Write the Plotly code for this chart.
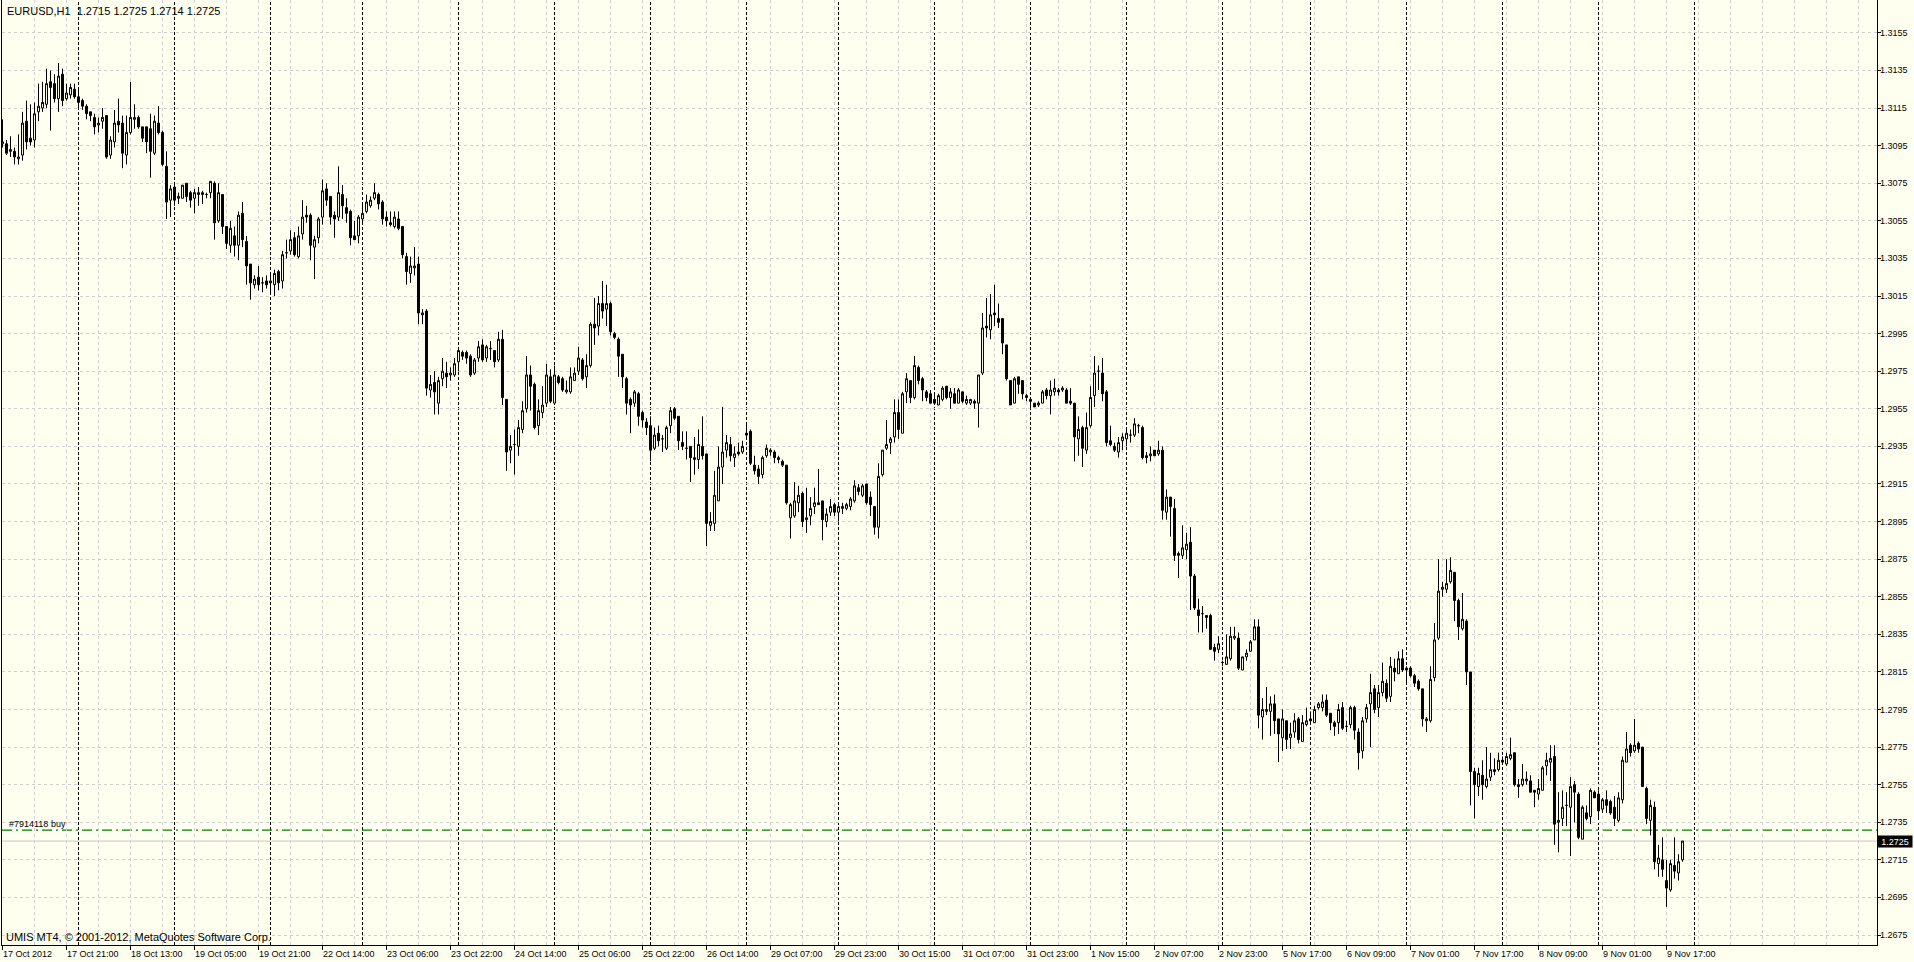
import plotly.graph_objects as go

# ---------------- data ----------------
SYMBOL = "EURUSD,H1"

# trading sessions (day, first hour, last hour) of the H1 bars shown
SESSIONS = [
    ("2012-10-17", 5, 23), ("2012-10-18", 0, 23), ("2012-10-19", 0, 23),
    ("2012-10-22", 1, 23), ("2012-10-23", 0, 23), ("2012-10-24", 0, 23),
    ("2012-10-25", 0, 23), ("2012-10-26", 0, 23), ("2012-10-29", 1, 23),
    ("2012-10-30", 0, 23), ("2012-10-31", 0, 23), ("2012-11-01", 0, 23),
    ("2012-11-02", 0, 23), ("2012-11-05", 2, 23), ("2012-11-06", 0, 23),
    ("2012-11-07", 0, 23), ("2012-11-08", 0, 23), ("2012-11-09", 0, 21),
]

OPEN = [
    1.3096, 1.3096, 1.3092, 1.3092, 1.3088, 1.3090, 1.3108, 1.3099, 1.3098, 1.3113,
    1.3115, 1.3117, 1.3129, 1.3128, 1.3120, 1.3133, 1.3120, 1.3122, 1.3125, 1.3121,
    1.3119, 1.3116, 1.3113, 1.3110, 1.3106, 1.3108, 1.3111, 1.3090, 1.3097, 1.3108,
    1.3107, 1.3090, 1.3102, 1.3109, 1.3110, 1.3105, 1.3105, 1.3104, 1.3091, 1.3107,
    1.3102, 1.3084, 1.3066, 1.3073, 1.3067, 1.3067, 1.3075, 1.3070, 1.3067, 1.3069,
    1.3069, 1.3069, 1.3070, 1.3075, 1.3055, 1.3069, 1.3052, 1.3042, 1.3047, 1.3042,
    1.3059, 1.3044, 1.3032, 1.3021, 1.3025, 1.3022, 1.3023, 1.3022, 1.3021, 1.3028,
    1.3023, 1.3038, 1.3039, 1.3046, 1.3036, 1.3048, 1.3058, 1.3058, 1.3041, 1.3046,
    1.3057, 1.3072, 1.3068, 1.3058, 1.3057, 1.3069, 1.3062, 1.3060, 1.3047, 1.3047,
    1.3056, 1.3060, 1.3063, 1.3067, 1.3069, 1.3065, 1.3057, 1.3054, 1.3052, 1.3056,
    1.3052, 1.3036, 1.3027, 1.3030, 1.3032, 1.3005, 1.3007, 1.2965, 1.2969, 1.2958,
    1.2971, 1.2974, 1.2973, 1.2973, 1.2980, 1.2985, 1.2985, 1.2983, 1.2974, 1.2982,
    1.2989, 1.2982, 1.2987, 1.2986, 1.2981, 1.2992, 1.2960, 1.2933, 1.2936, 1.2935,
    1.2944, 1.2955, 1.2973, 1.2968, 1.2946, 1.2953, 1.2958, 1.2972, 1.2958, 1.2972,
    1.2971, 1.2964, 1.2964, 1.2970, 1.2975, 1.2981, 1.2972, 1.2978, 1.3000, 1.2999,
    1.3011, 1.3008, 1.3011, 1.2995, 1.2992, 1.2984, 1.2971, 1.2960, 1.2958, 1.2963,
    1.2953, 1.2948, 1.2946, 1.2934, 1.2942, 1.2939, 1.2934, 1.2946, 1.2955, 1.2951,
    1.2937, 1.2934, 1.2935, 1.2928, 1.2928, 1.2935, 1.2931, 1.2893, 1.2894, 1.2906,
    1.2924, 1.2933, 1.2936, 1.2929, 1.2932, 1.2932, 1.2942, 1.2943, 1.2925, 1.2923,
    1.2920, 1.2930, 1.2932, 1.2932, 1.2929, 1.2927, 1.2925, 1.2897, 1.2898, 1.2905,
    1.2910, 1.2896, 1.2898, 1.2903, 1.2905, 1.2906, 1.2895, 1.2900, 1.2904, 1.2900,
    1.2902, 1.2902, 1.2903, 1.2906, 1.2913, 1.2909, 1.2915, 1.2908, 1.2903, 1.2892,
    1.2920, 1.2934, 1.2937, 1.2940, 1.2953, 1.2942, 1.2964, 1.2970, 1.2961, 1.2977,
    1.2971, 1.2964, 1.2963, 1.2960, 1.2957, 1.2960, 1.2967, 1.2961, 1.2963, 1.2958,
    1.2964, 1.2958, 1.2958, 1.2959, 1.2958, 1.2974, 1.2999, 1.2997, 1.3006, 1.3003,
    1.3003, 1.2989, 1.2970, 1.2958, 1.2972, 1.2970, 1.2962, 1.2960, 1.2958, 1.2957,
    1.2958, 1.2965, 1.2962, 1.2964, 1.2965, 1.2965, 1.2965, 1.2959, 1.2958, 1.2939,
    1.2945, 1.2933, 1.2946, 1.2962, 1.2975, 1.2974, 1.2964, 1.2938, 1.2935, 1.2932,
    1.2938, 1.2939, 1.2941, 1.2941, 1.2946, 1.2945, 1.2930, 1.2930, 1.2933, 1.2931,
    1.2933, 1.2900, 1.2908, 1.2902, 1.2877, 1.2877, 1.2880, 1.2884, 1.2866, 1.2848,
    1.2846, 1.2845, 1.2845, 1.2828, 1.2827, 1.2820, 1.2819, 1.2822, 1.2833, 1.2833,
    1.2816, 1.2823, 1.2826, 1.2832, 1.2839, 1.2791, 1.2794, 1.2794, 1.2798, 1.2790,
    1.2780, 1.2789, 1.2780, 1.2783, 1.2790, 1.2778, 1.2787, 1.2790, 1.2788, 1.2796,
    1.2796, 1.2800, 1.2793, 1.2788, 1.2788, 1.2796, 1.2786, 1.2787, 1.2796, 1.2783,
    1.2773, 1.2790, 1.2798, 1.2806, 1.2796, 1.2804, 1.2809, 1.2802, 1.2817, 1.2814,
    1.2822, 1.2817, 1.2817, 1.2813, 1.2810, 1.2806, 1.2789, 1.2789, 1.2812, 1.2833,
    1.2859, 1.2859, 1.2863, 1.2868, 1.2853, 1.2838, 1.2842, 1.2815, 1.2762, 1.2754,
    1.2760, 1.2754, 1.2759, 1.2762, 1.2763, 1.2768, 1.2766, 1.2769, 1.2772, 1.2755,
    1.2755, 1.2757, 1.2757, 1.2752, 1.2750, 1.2752, 1.2765, 1.2767, 1.2770, 1.2735,
    1.2737, 1.2744, 1.2743, 1.2755, 1.2750, 1.2726, 1.2740, 1.2738, 1.2751, 1.2750,
    1.2742, 1.2747, 1.2746, 1.2743, 1.2736, 1.2747, 1.2767, 1.2776, 1.2773, 1.2777,
    1.2775, 1.2753, 1.2736, 1.2743, 1.2713, 1.2715, 1.2704, 1.2699, 1.2712, 1.2708, 1.2715,
]

HIGH = [
    1.3109, 1.3098, 1.3100, 1.3094, 1.3101, 1.3113, 1.3119, 1.3117, 1.3118, 1.3128,
    1.3129, 1.3136, 1.3135, 1.3133, 1.3139, 1.3136, 1.3128, 1.3128, 1.3128, 1.3125,
    1.3120, 1.3117, 1.3113, 1.3112, 1.3110, 1.3115, 1.3111, 1.3100, 1.3114, 1.3120,
    1.3111, 1.3111, 1.3129, 1.3117, 1.3111, 1.3105, 1.3105, 1.3112, 1.3111, 1.3116,
    1.3103, 1.3092, 1.3074, 1.3074, 1.3070, 1.3074, 1.3075, 1.3071, 1.3072, 1.3073,
    1.3071, 1.3070, 1.3076, 1.3076, 1.3075, 1.3069, 1.3052, 1.3055, 1.3052, 1.3060,
    1.3065, 1.3047, 1.3032, 1.3026, 1.3031, 1.3025, 1.3026, 1.3027, 1.3029, 1.3029,
    1.3039, 1.3045, 1.3050, 1.3049, 1.3052, 1.3066, 1.3063, 1.3059, 1.3047, 1.3057,
    1.3077, 1.3075, 1.3068, 1.3060, 1.3084, 1.3074, 1.3067, 1.3061, 1.3055, 1.3058,
    1.3064, 1.3069, 1.3068, 1.3075, 1.3070, 1.3066, 1.3060, 1.3060, 1.3060, 1.3060,
    1.3052, 1.3038, 1.3036, 1.3041, 1.3036, 1.3008, 1.3008, 1.2973, 1.2975, 1.2972,
    1.2982, 1.2980, 1.2977, 1.2982, 1.2987, 1.2986, 1.2986, 1.2984, 1.2982, 1.2991,
    1.2992, 1.2989, 1.2991, 1.2986, 1.2996, 1.2997, 1.2960, 1.2941, 1.2944, 1.2949,
    1.2959, 1.2983, 1.2978, 1.2969, 1.2960, 1.2967, 1.2979, 1.2976, 1.2978, 1.2973,
    1.2972, 1.2970, 1.2977, 1.2977, 1.2988, 1.2982, 1.2984, 1.3001, 1.3014, 1.3015,
    1.3023, 1.3021, 1.3012, 1.2996, 1.2993, 1.2984, 1.2972, 1.2961, 1.2965, 1.2964,
    1.2954, 1.2950, 1.2951, 1.2945, 1.2946, 1.2941, 1.2946, 1.2956, 1.2956, 1.2951,
    1.2943, 1.2943, 1.2935, 1.2940, 1.2944, 1.2951, 1.2931, 1.2900, 1.2922, 1.2935,
    1.2956, 1.2941, 1.2940, 1.2935, 1.2937, 1.2938, 1.2948, 1.2944, 1.2930, 1.2925,
    1.2930, 1.2936, 1.2934, 1.2933, 1.2930, 1.2928, 1.2925, 1.2905, 1.2916, 1.2914,
    1.2911, 1.2913, 1.2908, 1.2913, 1.2923, 1.2906, 1.2902, 1.2907, 1.2905, 1.2905,
    1.2905, 1.2905, 1.2908, 1.2917, 1.2915, 1.2915, 1.2915, 1.2911, 1.2903, 1.2926,
    1.2933, 1.2949, 1.2940, 1.2960, 1.2960, 1.2964, 1.2974, 1.2970, 1.2983, 1.2978,
    1.2972, 1.2965, 1.2965, 1.2963, 1.2963, 1.2967, 1.2967, 1.2966, 1.2966, 1.2966,
    1.2964, 1.2962, 1.2960, 1.2960, 1.2973, 1.3006, 1.3014, 1.3016, 1.3021, 1.3011,
    1.3003, 1.2989, 1.2970, 1.2972, 1.2972, 1.2970, 1.2963, 1.2960, 1.2958, 1.2959,
    1.2965, 1.2966, 1.2970, 1.2971, 1.2966, 1.2967, 1.2966, 1.2966, 1.2958, 1.2951,
    1.2946, 1.2953, 1.2967, 1.2983, 1.2978, 1.2982, 1.2965, 1.2946, 1.2937, 1.2940,
    1.2942, 1.2945, 1.2944, 1.2950, 1.2947, 1.2946, 1.2932, 1.2935, 1.2933, 1.2938,
    1.2935, 1.2912, 1.2908, 1.2907, 1.2879, 1.2893, 1.2889, 1.2892, 1.2867, 1.2854,
    1.2850, 1.2845, 1.2846, 1.2830, 1.2834, 1.2821, 1.2835, 1.2839, 1.2839, 1.2836,
    1.2823, 1.2827, 1.2832, 1.2843, 1.2843, 1.2801, 1.2807, 1.2802, 1.2803, 1.2790,
    1.2795, 1.2789, 1.2788, 1.2793, 1.2791, 1.2792, 1.2796, 1.2794, 1.2797, 1.2799,
    1.2803, 1.2803, 1.2793, 1.2789, 1.2798, 1.2799, 1.2789, 1.2797, 1.2797, 1.2785,
    1.2791, 1.2798, 1.2814, 1.2808, 1.2808, 1.2820, 1.2811, 1.2823, 1.2822, 1.2826,
    1.2827, 1.2818, 1.2818, 1.2814, 1.2811, 1.2806, 1.2791, 1.2818, 1.2841, 1.2875,
    1.2863, 1.2875, 1.2876, 1.2868, 1.2854, 1.2857, 1.2843, 1.2815, 1.2764, 1.2764,
    1.2768, 1.2775, 1.2772, 1.2769, 1.2772, 1.2770, 1.2772, 1.2780, 1.2772, 1.2758,
    1.2766, 1.2762, 1.2760, 1.2752, 1.2758, 1.2765, 1.2772, 1.2776, 1.2776, 1.2751,
    1.2752, 1.2751, 1.2759, 1.2757, 1.2751, 1.2744, 1.2744, 1.2753, 1.2752, 1.2752,
    1.2748, 1.2752, 1.2747, 1.2749, 1.2751, 1.2770, 1.2783, 1.2777, 1.2790, 1.2778,
    1.2775, 1.2754, 1.2747, 1.2746, 1.2723, 1.2727, 1.2715, 1.2715, 1.2727, 1.2718, 1.2725,
]

LOW = [
    1.3094, 1.3090, 1.3089, 1.3085, 1.3085, 1.3087, 1.3093, 1.3095, 1.3094, 1.3108,
    1.3113, 1.3115, 1.3103, 1.3118, 1.3113, 1.3116, 1.3119, 1.3120, 1.3120, 1.3115,
    1.3114, 1.3109, 1.3108, 1.3101, 1.3102, 1.3104, 1.3088, 1.3088, 1.3094, 1.3102,
    1.3083, 1.3085, 1.3101, 1.3104, 1.3104, 1.3097, 1.3091, 1.3078, 1.3090, 1.3101,
    1.3084, 1.3056, 1.3057, 1.3063, 1.3064, 1.3067, 1.3065, 1.3062, 1.3059, 1.3063,
    1.3064, 1.3067, 1.3067, 1.3045, 1.3054, 1.3048, 1.3040, 1.3038, 1.3036, 1.3034,
    1.3041, 1.3021, 1.3013, 1.3019, 1.3018, 1.3017, 1.3019, 1.3016, 1.3015, 1.3018,
    1.3019, 1.3035, 1.3037, 1.3036, 1.3035, 1.3045, 1.3054, 1.3034, 1.3024, 1.3043,
    1.3053, 1.3063, 1.3053, 1.3046, 1.3055, 1.3056, 1.3054, 1.3042, 1.3045, 1.3043,
    1.3054, 1.3059, 1.3062, 1.3066, 1.3061, 1.3053, 1.3052, 1.3052, 1.3051, 1.3050,
    1.3035, 1.3021, 1.3022, 1.3026, 1.3000, 1.3000, 1.2962, 1.2961, 1.2952, 1.2952,
    1.2967, 1.2966, 1.2970, 1.2972, 1.2975, 1.2981, 1.2979, 1.2972, 1.2973, 1.2980,
    1.2980, 1.2980, 1.2981, 1.2977, 1.2980, 1.2957, 1.2922, 1.2926, 1.2920, 1.2930,
    1.2942, 1.2953, 1.2954, 1.2944, 1.2941, 1.2950, 1.2956, 1.2958, 1.2958, 1.2968,
    1.2964, 1.2963, 1.2963, 1.2970, 1.2973, 1.2970, 1.2966, 1.2977, 1.2989, 1.2994,
    1.3003, 1.2999, 1.2994, 1.2992, 1.2972, 1.2966, 1.2952, 1.2942, 1.2956, 1.2946,
    1.2945, 1.2941, 1.2927, 1.2933, 1.2935, 1.2932, 1.2933, 1.2942, 1.2949, 1.2933,
    1.2933, 1.2928, 1.2916, 1.2920, 1.2923, 1.2928, 1.2882, 1.2890, 1.2890, 1.2906,
    1.2915, 1.2929, 1.2927, 1.2924, 1.2930, 1.2931, 1.2940, 1.2925, 1.2920, 1.2915,
    1.2918, 1.2929, 1.2930, 1.2926, 1.2926, 1.2924, 1.2904, 1.2886, 1.2897, 1.2900,
    1.2892, 1.2889, 1.2893, 1.2899, 1.2904, 1.2885, 1.2892, 1.2898, 1.2898, 1.2895,
    1.2899, 1.2901, 1.2901, 1.2905, 1.2909, 1.2908, 1.2904, 1.2898, 1.2888, 1.2886,
    1.2919, 1.2933, 1.2931, 1.2937, 1.2939, 1.2942, 1.2958, 1.2958, 1.2960, 1.2968,
    1.2959, 1.2959, 1.2958, 1.2957, 1.2957, 1.2959, 1.2960, 1.2955, 1.2958, 1.2958,
    1.2958, 1.2957, 1.2957, 1.2955, 1.2945, 1.2973, 1.2993, 1.2992, 1.2999, 1.2998,
    1.2984, 1.2970, 1.2957, 1.2958, 1.2963, 1.2960, 1.2959, 1.2955, 1.2956, 1.2956,
    1.2958, 1.2960, 1.2952, 1.2962, 1.2962, 1.2964, 1.2958, 1.2957, 1.2927, 1.2930,
    1.2924, 1.2931, 1.2945, 1.2956, 1.2965, 1.2959, 1.2935, 1.2935, 1.2932, 1.2929,
    1.2933, 1.2935, 1.2937, 1.2940, 1.2942, 1.2928, 1.2926, 1.2927, 1.2930, 1.2930,
    1.2896, 1.2896, 1.2887, 1.2874, 1.2865, 1.2875, 1.2875, 1.2848, 1.2848, 1.2836,
    1.2836, 1.2838, 1.2827, 1.2821, 1.2825, 1.2818, 1.2819, 1.2821, 1.2832, 1.2816,
    1.2816, 1.2821, 1.2826, 1.2832, 1.2785, 1.2779, 1.2792, 1.2781, 1.2782, 1.2767,
    1.2773, 1.2774, 1.2774, 1.2780, 1.2777, 1.2778, 1.2786, 1.2787, 1.2788, 1.2795,
    1.2794, 1.2791, 1.2784, 1.2781, 1.2782, 1.2784, 1.2783, 1.2785, 1.2779, 1.2763,
    1.2769, 1.2788, 1.2775, 1.2793, 1.2791, 1.2802, 1.2799, 1.2799, 1.2810, 1.2814,
    1.2815, 1.2809, 1.2812, 1.2807, 1.2805, 1.2786, 1.2783, 1.2788, 1.2810, 1.2832,
    1.2855, 1.2857, 1.2862, 1.2842, 1.2832, 1.2837, 1.2808, 1.2744, 1.2737, 1.2749,
    1.2747, 1.2753, 1.2757, 1.2760, 1.2762, 1.2766, 1.2765, 1.2768, 1.2754, 1.2748,
    1.2754, 1.2755, 1.2751, 1.2743, 1.2747, 1.2752, 1.2760, 1.2757, 1.2723, 1.2719,
    1.2733, 1.2733, 1.2717, 1.2735, 1.2726, 1.2726, 1.2736, 1.2734, 1.2748, 1.2737,
    1.2740, 1.2740, 1.2739, 1.2733, 1.2735, 1.2745, 1.2767, 1.2770, 1.2772, 1.2772,
    1.2754, 1.2734, 1.2728, 1.2710, 1.2706, 1.2706, 1.2690, 1.2698, 1.2705, 1.2704, 1.2714,
]

CLOSE = [
    1.3097, 1.3091, 1.3093, 1.3089, 1.3089, 1.3107, 1.3097, 1.3097, 1.3112, 1.3116,
    1.3118, 1.3128, 1.3126, 1.3120, 1.3132, 1.3119, 1.3123, 1.3126, 1.3121, 1.3118,
    1.3116, 1.3112, 1.3111, 1.3105, 1.3107, 1.3110, 1.3089, 1.3098, 1.3107, 1.3106,
    1.3091, 1.3102, 1.3110, 1.3110, 1.3105, 1.3099, 1.3097, 1.3092, 1.3108, 1.3102,
    1.3085, 1.3065, 1.3072, 1.3066, 1.3068, 1.3074, 1.3068, 1.3066, 1.3070, 1.3070,
    1.3070, 1.3069, 1.3076, 1.3054, 1.3070, 1.3052, 1.3043, 1.3051, 1.3042, 1.3058,
    1.3045, 1.3031, 1.3022, 1.3024, 1.3021, 1.3022, 1.3021, 1.3023, 1.3027, 1.3022,
    1.3037, 1.3038, 1.3045, 1.3037, 1.3047, 1.3057, 1.3057, 1.3042, 1.3045, 1.3056,
    1.3071, 1.3066, 1.3057, 1.3056, 1.3070, 1.3063, 1.3059, 1.3046, 1.3045, 1.3057,
    1.3059, 1.3065, 1.3066, 1.3070, 1.3064, 1.3056, 1.3055, 1.3053, 1.3057, 1.3051,
    1.3037, 1.3028, 1.3031, 1.3031, 1.3006, 1.3006, 1.2966, 1.2968, 1.2964, 1.2970,
    1.2975, 1.2972, 1.2974, 1.2979, 1.2986, 1.2983, 1.2982, 1.2973, 1.2981, 1.2988,
    1.2981, 1.2988, 1.2987, 1.2980, 1.2992, 1.2961, 1.2932, 1.2935, 1.2936, 1.2945,
    1.2954, 1.2973, 1.2967, 1.2945, 1.2954, 1.2957, 1.2973, 1.2959, 1.2973, 1.2969,
    1.2965, 1.2965, 1.2972, 1.2974, 1.2982, 1.2971, 1.2978, 1.3000, 1.2998, 1.3011,
    1.3007, 1.3011, 1.2996, 1.2993, 1.2983, 1.2972, 1.2958, 1.2957, 1.2964, 1.2951,
    1.2949, 1.2945, 1.2933, 1.2941, 1.2938, 1.2939, 1.2945, 1.2954, 1.2950, 1.2938,
    1.2935, 1.2934, 1.2929, 1.2929, 1.2936, 1.2930, 1.2894, 1.2895, 1.2909, 1.2924,
    1.2932, 1.2937, 1.2930, 1.2931, 1.2931, 1.2935, 1.2941, 1.2926, 1.2922, 1.2919,
    1.2929, 1.2934, 1.2933, 1.2929, 1.2928, 1.2925, 1.2905, 1.2904, 1.2906, 1.2909,
    1.2895, 1.2897, 1.2902, 1.2905, 1.2904, 1.2896, 1.2899, 1.2903, 1.2900, 1.2903,
    1.2903, 1.2904, 1.2907, 1.2914, 1.2911, 1.2914, 1.2905, 1.2904, 1.2892, 1.2919,
    1.2933, 1.2936, 1.2939, 1.2953, 1.2944, 1.2963, 1.2971, 1.2961, 1.2978, 1.2970,
    1.2965, 1.2961, 1.2958, 1.2958, 1.2962, 1.2966, 1.2961, 1.2964, 1.2958, 1.2965,
    1.2959, 1.2960, 1.2960, 1.2958, 1.2973, 1.2998, 1.2998, 1.3005, 1.3005, 1.3001,
    1.2990, 1.2971, 1.2957, 1.2971, 1.2968, 1.2963, 1.2961, 1.2959, 1.2956, 1.2958,
    1.2964, 1.2962, 1.2965, 1.2966, 1.2964, 1.2966, 1.2958, 1.2958, 1.2940, 1.2944,
    1.2934, 1.2945, 1.2961, 1.2974, 1.2975, 1.2963, 1.2937, 1.2936, 1.2933, 1.2937,
    1.2940, 1.2942, 1.2941, 1.2947, 1.2946, 1.2929, 1.2929, 1.2931, 1.2930, 1.2933,
    1.2901, 1.2908, 1.2903, 1.2877, 1.2878, 1.2881, 1.2883, 1.2866, 1.2849, 1.2845,
    1.2846, 1.2844, 1.2827, 1.2826, 1.2830, 1.2820, 1.2823, 1.2834, 1.2834, 1.2817,
    1.2823, 1.2825, 1.2831, 1.2839, 1.2792, 1.2795, 1.2795, 1.2798, 1.2789, 1.2782,
    1.2790, 1.2779, 1.2782, 1.2789, 1.2779, 1.2788, 1.2789, 1.2789, 1.2795, 1.2798,
    1.2799, 1.2792, 1.2788, 1.2786, 1.2795, 1.2785, 1.2786, 1.2796, 1.2784, 1.2772,
    1.2789, 1.2796, 1.2804, 1.2795, 1.2804, 1.2810, 1.2801, 1.2818, 1.2815, 1.2822,
    1.2816, 1.2816, 1.2813, 1.2809, 1.2806, 1.2790, 1.2790, 1.2811, 1.2832, 1.2858,
    1.2860, 1.2862, 1.2869, 1.2853, 1.2839, 1.2843, 1.2815, 1.2762, 1.2755, 1.2761,
    1.2755, 1.2758, 1.2763, 1.2763, 1.2768, 1.2767, 1.2770, 1.2771, 1.2755, 1.2754,
    1.2758, 1.2758, 1.2751, 1.2751, 1.2753, 1.2764, 1.2768, 1.2769, 1.2734, 1.2736,
    1.2743, 1.2744, 1.2754, 1.2751, 1.2727, 1.2743, 1.2737, 1.2752, 1.2748, 1.2741,
    1.2747, 1.2744, 1.2740, 1.2737, 1.2748, 1.2768, 1.2774, 1.2772, 1.2776, 1.2774,
    1.2754, 1.2737, 1.2744, 1.2714, 1.2716, 1.2710, 1.2700, 1.2713, 1.2709, 1.2714, 1.2725,
]

TIME_LABELS = [
    "17 Oct 2012", "17 Oct 21:00", "18 Oct 13:00", "19 Oct 05:00", "19 Oct 21:00",
    "22 Oct 14:00", "23 Oct 06:00", "23 Oct 22:00", "24 Oct 14:00", "25 Oct 06:00",
    "25 Oct 22:00", "26 Oct 14:00", "29 Oct 07:00", "29 Oct 23:00", "30 Oct 15:00",
    "31 Oct 07:00", "31 Oct 23:00", "1 Nov 15:00", "2 Nov 07:00", "2 Nov 23:00",
    "5 Nov 17:00", "6 Nov 09:00", "7 Nov 01:00", "7 Nov 17:00", "8 Nov 09:00",
    "9 Nov 01:00", "9 Nov 17:00",
]
LABEL_EVERY = 16      # bars between time labels
GRID_EVERY = 8        # bars between vertical grid lines

PRICE_TICKS = [
    "1.2675", "1.2695", "1.2715", "1.2735", "1.2755", "1.2775", "1.2795", "1.2815",
    "1.2835", "1.2855", "1.2875", "1.2895", "1.2915", "1.2935", "1.2955", "1.2975",
    "1.2995", "1.3015", "1.3035", "1.3055", "1.3075", "1.3095", "1.3115", "1.3135",
    "1.3155",
]

BUY_PRICE = 1.27308
BUY_LABEL = "#7914118 buy"
COPYRIGHT = "UMIS MT4, \u00a9 2001-2012, MetaQuotes Software Corp."

# ---------------- build ----------------
n = len(CLOSE)
assert len(OPEN) == n and len(HIGH) == n and len(LOW) == n, (len(OPEN), len(HIGH), len(LOW), n)

HIGH = [max(h, o, c) for h, o, c in zip(HIGH, OPEN, CLOSE)]
LOW = [min(l, o, c) for l, o, c in zip(LOW, OPEN, CLOSE)]

# bar index of the first bar of every day
day_starts = []
count = 0
for d, h0, h1 in SESSIONS:
    day_starts.append(count)
    count += h1 - h0 + 1
assert count == n, count
last_hour = SESSIONS[-1][2]
future_sep = (n - 1) + (24 - last_hour)   # next midnight after the last bar
separators = day_starts[1:] + [future_sep]

x = list(range(n))
BG = "#FFFFF0"
GRID = "#CFCFCF"
FONT = "Liberation Sans, Arial, sans-serif"

fig = go.Figure()
fig.add_trace(go.Candlestick(
    x=x, open=OPEN, high=HIGH, low=LOW, close=CLOSE,
    increasing=dict(line=dict(color="black", width=1), fillcolor=BG),
    decreasing=dict(line=dict(color="black", width=1), fillcolor="black"),
    whiskerwidth=0, hoverinfo="skip", showlegend=False,
))

shapes = []
for s in separators:
    shapes.append(dict(type="line", xref="x", yref="paper", x0=s, x1=s, y0=0, y1=1,
                       line=dict(color="black", width=1, dash="3px,2px"), layer="below"))
# bid line
bid = CLOSE[-1]
shapes.append(dict(type="line", xref="paper", yref="y", x0=0, x1=1, y0=bid, y1=bid,
                   line=dict(color="#C8C8C8", width=1), layer="below"))
# order line
shapes.append(dict(type="line", xref="paper", yref="y", x0=0, x1=1, y0=BUY_PRICE, y1=BUY_PRICE,
                   line=dict(color="#008000", width=1.2, dash="10px,4px,2px,4px"), layer="below"))

label_pos = [k * LABEL_EVERY for k in range(len(TIME_LABELS))]

annotations = []
for pos, txt in zip(label_pos, TIME_LABELS):
    annotations.append(dict(x=pos, y=0, xref="x", yref="paper", text=txt, showarrow=False,
                            xanchor="left", yanchor="top", xshift=-2, yshift=-2,
                            font=dict(family=FONT, size=9, color="black")))
for t in PRICE_TICKS:
    annotations.append(dict(x=1, y=float(t), xref="paper", yref="y", text=t, showarrow=False,
                            xanchor="left", yanchor="middle", xshift=1,
                            font=dict(family=FONT, size=9, color="black")))
title = f"{SYMBOL}  {OPEN[-1]:.4f} {HIGH[-1]:.4f} {LOW[-1]:.4f} {CLOSE[-1]:.4f}"
annotations.append(dict(x=0, y=1, xref="paper", yref="paper", text=title, showarrow=False,
                        xanchor="left", yanchor="top", xshift=3, yshift=-3,
                        font=dict(family=FONT, size=11, color="black")))
annotations.append(dict(x=0, y=0, xref="paper", yref="paper", text=COPYRIGHT, showarrow=False,
                        xanchor="left", yanchor="bottom", xshift=2, yshift=0,
                        font=dict(family=FONT, size=11, color="black")))
annotations.append(dict(x=0, y=BUY_PRICE, xref="paper", yref="y", text=BUY_LABEL, showarrow=False,
                        xanchor="left", yanchor="bottom", xshift=5, yshift=-1,
                        font=dict(family=FONT, size=9, color="black")))
annotations.append(dict(x=1, y=bid, xref="paper", yref="y", text=f"{bid:.4f}", showarrow=False,
                        xanchor="left", yanchor="middle", xshift=0, bgcolor="black",
                        width=34, height=11, align="center", borderpad=0,
                        font=dict(family=FONT, size=9, color="white")))

W, H = 1914, 962
L_M, R_M, T_M, B_M = 2, 37, 0, 17
plot_w = W - L_M - R_M
bar_px = 4.0
x0 = -0.125
x1 = x0 + plot_w / bar_px

fig.update_layout(
    width=W, height=H,
    margin=dict(l=L_M, r=R_M, t=T_M, b=B_M, pad=0, autoexpand=False),
    paper_bgcolor=BG, plot_bgcolor=BG,
    boxgap=0.3,
    shapes=shapes, annotations=annotations,
    showlegend=False,
    xaxis=dict(
        range=[x0, x1], rangeslider=dict(visible=False), automargin=False,
        tickmode="array", tickvals=label_pos, ticktext=[""] * len(label_pos),
        showticklabels=False, ticks="outside", ticklen=4, tickcolor="black",
        showgrid=True, gridcolor=GRID, griddash="3px,3px", gridwidth=1,
        minor=dict(tickmode="linear", tick0=0, dtick=GRID_EVERY, showgrid=True,
                   gridcolor=GRID, griddash="3px,3px", gridwidth=1, ticks=""),
        showline=True, linecolor="black", linewidth=1, mirror=False,
        zeroline=False, fixedrange=True,
    ),
    yaxis=dict(
        range=[1.26697, 1.31725], side="right", automargin=False,
        tickmode="array", tickvals=[float(t) for t in PRICE_TICKS],
        showticklabels=False,
        ticks="outside", ticklen=3, tickcolor="black",
        showgrid=True, gridcolor=GRID, griddash="3px,3px", gridwidth=1,
        showline=True, linecolor="black", linewidth=1, mirror=True,
        zeroline=False, fixedrange=True,
    ),
    font=dict(family=FONT, size=9, color="black"),
)

# page body without the browser's default 8px margin, so the figure fills the window
fig.write_html(
    "out.html",
    config={"displayModeBar": False},
    post_script=(
        "document.documentElement.style.margin='0';"
        "document.body.style.margin='0';"
        "document.body.style.overflow='hidden';"
        "document.body.style.background='#FFFFF0';"
    ),
)
